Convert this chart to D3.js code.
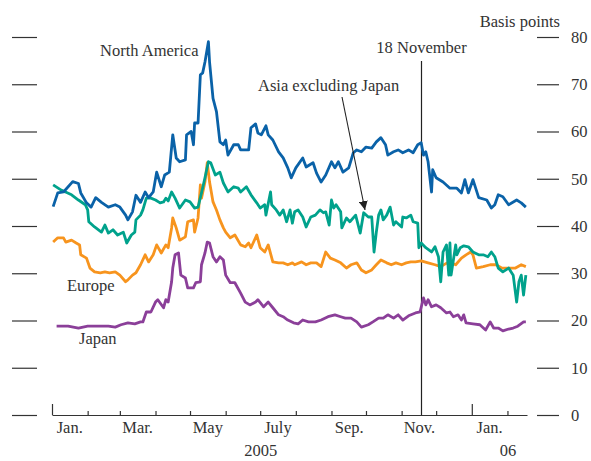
<!doctype html>
<html>
<head>
    <title>Spreads 2005-06</title>
    <script src='https://d3js.org/d3.v7.min.js'></script>
    <style>
        body { margin: 0; background: #fff; }
        svg text { font-family: "Liberation Serif", serif; fill: #333; }
    </style>
</head>
<body>
<svg></svg>
</body>
<script>

    // values, basis points
    var northAmerica = [
        ["2005-01-02",44.1],["2005-01-06",47],["2005-01-11",47.2],["2005-01-19",49.4],["2005-01-24",49],
        ["2005-01-26",47],["2005-01-31",44.9],["2005-02-04",44],["2005-02-08",46],["2005-02-13",45],
        ["2005-02-19",44],["2005-02-25",44.5],["2005-03-01",44],["2005-03-06",42.3],["2005-03-08",41.3],
        ["2005-03-12",43],["2005-03-15",46.5],["2005-03-19",45],["2005-03-23",47.2],["2005-03-26",46],
        ["2005-03-30",47.2],["2005-04-02",51.4],["2005-04-06",48.3],["2005-04-09",50.8],["2005-04-13",51.4],
        ["2005-04-16",59.3],["2005-04-19",54.4],["2005-04-22",53.6],["2005-04-27",54],["2005-04-28",59.3],
        ["2005-05-02",60],["2005-05-04",57.2],["2005-05-05",61.8],["2005-05-08",61.8],["2005-05-10",72],
        ["2005-05-12",72.4],["2005-05-14",74.7],["2005-05-17",79],["2005-05-18",74.7],["2005-05-21",67],
        ["2005-05-24",64.2],["2005-05-27",57.8],["2005-05-30",57.2],["2005-06-01",58.2],["2005-06-03",55],
        ["2005-06-08",57.2],["2005-06-12",57.2],["2005-06-14",56.1],["2005-06-21",56.1],["2005-06-23",60.8],
        ["2005-06-27",61.6],["2005-06-29",59.7],["2005-07-02",59.3],["2005-07-06",61.2],["2005-07-08",59.3],
        ["2005-07-12",58.2],["2005-07-17",55.7],["2005-07-21",54.4],["2005-07-25",52.3],["2005-07-28",50.2],
        ["2005-08-01",52.3],["2005-08-07",54.4],["2005-08-10",52.5],["2005-08-16",53.4],["2005-08-19",51.2],
        ["2005-08-23",49.3],["2005-08-27",50.8],["2005-09-01",53.6],["2005-09-04",52.3],["2005-09-07",53.6],
        ["2005-09-11",51.4],["2005-09-16",52.3],["2005-09-20",55.5],["2005-09-23",56.1],["2005-09-27",55.7],
        ["2005-10-01",56.7],["2005-10-06",56.5],["2005-10-10",57.8],["2005-10-14",58.7],["2005-10-18",57.2],
        ["2005-10-20",55],["2005-10-25",55.7],["2005-10-29",56.1],["2005-11-02",55.5],["2005-11-07",56.1],
        ["2005-11-11",55.5],["2005-11-15",57.2],["2005-11-18",57.6],["2005-11-20",55],["2005-11-22",55.7],
        ["2005-11-24",53.6],["2005-11-27",47.2],["2005-11-28",51.9],["2005-12-01",50.2],["2005-12-07",49.3],
        ["2005-12-13",48],["2005-12-19",48],["2005-12-23",47],["2005-12-26",49.8],["2005-12-29",47],
        ["2006-01-02",49.8],["2006-01-07",46],["2006-01-14",45.5],["2006-01-18",43.8],["2006-01-21",44.5],
        ["2006-01-24",46.6],["2006-01-28",46.2],["2006-02-02",44.5],["2006-02-09",45.5],["2006-02-13",44.9],
        ["2006-02-17",44]
    ];

    var asiaExJapan = [
        ["2005-01-02",48.7],["2005-01-09",47.6],["2005-01-18",46.6],["2005-01-24",45.5],["2005-01-30",44.5],
        ["2005-02-01",43.4],["2005-02-02",40.9],["2005-02-07",39.8],["2005-02-13",38.7],["2005-02-16",40.2],
        ["2005-02-19",38.5],["2005-02-23",39.2],["2005-02-27",38.1],["2005-03-04",38.7],["2005-03-07",36.4],
        ["2005-03-11",38.1],["2005-03-14",38.7],["2005-03-15",41.3],["2005-03-19",42.3],["2005-03-21",43.4],
        ["2005-03-24",45.9],["2005-03-28",45.9],["2005-04-01",45.5],["2005-04-05",44.9],["2005-04-08",45.1],
        ["2005-04-10",45.9],["2005-04-12",45.3],["2005-04-15",47.2],["2005-04-18",45.9],["2005-04-22",43.8],
        ["2005-04-27",45.5],["2005-05-01",45.1],["2005-05-05",43.8],["2005-05-08",44],["2005-05-11",47],
        ["2005-05-14",50.2],["2005-05-17",53.6],["2005-05-19",53.4],["2005-05-23",50.8],["2005-05-27",51.4],
        ["2005-05-30",49.1],["2005-06-03",47.2],["2005-06-08",48.3],["2005-06-12",48],["2005-06-14",47.2],
        ["2005-06-19",48.3],["2005-06-23",46.6],["2005-06-28",44.9],["2005-07-01",43.8],["2005-07-05",44.5],
        ["2005-07-06",42.3],["2005-07-10",47.2],["2005-07-11",44.5],["2005-07-15",43.4],["2005-07-18",42.3],
        ["2005-07-21",43.4],["2005-07-24",40.9],["2005-07-27",43.4],["2005-07-29",40.6],["2005-07-31",43],
        ["2005-08-03",43.4],["2005-08-07",41.9],["2005-08-10",39.8],["2005-08-14",41.9],["2005-08-18",42.3],
        ["2005-08-22",43.4],["2005-08-25",42.8],["2005-08-27",43],["2005-08-30",40.2],["2005-09-01",45.5],
        ["2005-09-03",43.8],["2005-09-05",44.5],["2005-09-09",43],["2005-09-10",39.6],["2005-09-14",41.7],
        ["2005-09-17",40.9],["2005-09-22",42.3],["2005-09-26",38.5],["2005-09-29",42.8],["2005-10-03",41.9],
        ["2005-10-06",41.9],["2005-10-08",34.5],["2005-10-10",38.7],["2005-10-12",42.3],["2005-10-14",43.4],
        ["2005-10-16",41.3],["2005-10-19",42.3],["2005-10-22",44],["2005-10-25",40.2],["2005-10-27",40.9],
        ["2005-11-01",39.8],["2005-11-02",41.9],["2005-11-05",41.7],["2005-11-09",42.3],["2005-11-11",40.9],
        ["2005-11-15",40.6],["2005-11-16",35.4],["2005-11-18",36.4],["2005-11-22",35.4],["2005-11-27",34.5],
        ["2005-11-30",35.6],["2005-12-03",33.5],["2005-12-05",28.2],["2005-12-07",34.5],["2005-12-10",36],
        ["2005-12-12",29.6],["2005-12-13",36.4],["2005-12-14",29.6],["2005-12-18",36],["2005-12-19",33.9],
        ["2005-12-22",35.4],["2005-12-25",35.8],["2005-12-29",35.6],["2006-01-02",34.5],["2006-01-07",33.9],
        ["2006-01-11",33.9],["2006-01-15",33.5],["2006-01-18",34.5],["2006-01-21",33.5],["2006-01-24",31.1],
        ["2006-01-28",30.3],["2006-02-02",31.1],["2006-02-06",29.6],["2006-02-09",23.9],["2006-02-11",28.2],
        ["2006-02-13",29.6],["2006-02-15",25.4],["2006-02-17",29.6]
    ];

    var europe = [
        ["2005-01-02",36.6],["2005-01-06",37.5],["2005-01-11",37.5],["2005-01-13",36.6],["2005-01-18",37],
        ["2005-01-22",36.4],["2005-01-25",36],["2005-01-26",33.9],["2005-01-31",33.2],["2005-02-03",31.1],
        ["2005-02-07",30.3],["2005-02-12",30.1],["2005-02-16",30.3],["2005-02-20",30.1],["2005-02-25",30.3],
        ["2005-03-01",29.6],["2005-03-06",28.2],["2005-03-08",28.6],["2005-03-12",29.6],["2005-03-15",30.1],
        ["2005-03-19",31.8],["2005-03-23",33.9],["2005-03-26",32.4],["2005-03-30",33.9],["2005-04-02",36],
        ["2005-04-06",34.3],["2005-04-10",36],["2005-04-12",35.4],["2005-04-15",39.6],["2005-04-16",41.7],
        ["2005-04-19",39.6],["2005-04-22",37],["2005-04-27",37.7],["2005-04-29",40.9],["2005-05-04",41.3],
        ["2005-05-05",38.7],["2005-05-08",41.7],["2005-05-10",48.7],["2005-05-11",45.9],["2005-05-14",49.3],
        ["2005-05-16",53.4],["2005-05-18",49.3],["2005-05-21",45.1],["2005-05-24",43.4],["2005-05-27",41.3],
        ["2005-05-30",39.6],["2005-06-01",38.7],["2005-06-05",37.5],["2005-06-09",38.1],["2005-06-14",36],
        ["2005-06-18",35.6],["2005-06-21",36.4],["2005-06-23",35.4],["2005-06-28",38.1],["2005-07-01",35.4],
        ["2005-07-05",34.5],["2005-07-08",36],["2005-07-12",32.4],["2005-07-17",32.2],["2005-07-21",32.2],
        ["2005-07-25",31.8],["2005-07-29",32.2],["2005-07-31",31.8],["2005-08-06",32.4],["2005-08-10",31.8],
        ["2005-08-14",32.2],["2005-08-19",32.2],["2005-08-23",31.4],["2005-08-27",34.5],["2005-08-31",33.2],
        ["2005-09-04",32.8],["2005-09-09",32.2],["2005-09-14",31.1],["2005-09-18",31.8],["2005-09-23",32.2],
        ["2005-09-27",30.7],["2005-10-01",30.1],["2005-10-06",30.7],["2005-10-10",31.8],["2005-10-14",32.8],
        ["2005-10-19",32.2],["2005-10-23",31.8],["2005-10-27",32.2],["2005-11-01",31.8],["2005-11-05",32.2],
        ["2005-11-09",32.4],["2005-11-13",32.4],["2005-11-18",32.6],["2005-11-24",32.2],["2005-11-30",31.8],
        ["2005-12-05",31.4],["2005-12-12",32.4],["2005-12-18",31.8],["2005-12-23",33.2],["2005-12-27",33.9],
        ["2005-12-31",34.5],["2006-01-02",33.9],["2006-01-05",31.1],["2006-01-11",31.4],["2006-01-17",31.8],
        ["2006-01-22",31.8],["2006-01-27",31.1],["2006-02-02",31.1],["2006-02-08",31.1],["2006-02-13",31.8],
        ["2006-02-17",31.4]
    ];

    var japan = [
        ["2005-01-05",18.8],["2005-01-15",18.8],["2005-01-24",18.4],["2005-02-01",18.8],["2005-02-10",18.8],
        ["2005-02-19",18.8],["2005-02-25",18.6],["2005-03-02",19.1],["2005-03-08",19.5],["2005-03-14",19.3],
        ["2005-03-19",19.7],["2005-03-21",19.7],["2005-03-24",21.8],["2005-03-28",21.8],["2005-04-01",23.9],
        ["2005-04-03",24.4],["2005-04-08",22.7],["2005-04-10",24.4],["2005-04-12",23.9],["2005-04-15",28.2],
        ["2005-04-16",31.1],["2005-04-18",33.9],["2005-04-21",34.3],["2005-04-23",29.6],["2005-04-27",29],
        ["2005-04-29",26.9],["2005-05-04",26.9],["2005-05-06",28],["2005-05-10",28.2],["2005-05-11",31.8],
        ["2005-05-14",34.3],["2005-05-16",36.6],["2005-05-18",36.4],["2005-05-21",33.5],["2005-05-24",32.4],
        ["2005-05-27",33.5],["2005-05-30",32.8],["2005-06-01",29.6],["2005-06-05",28],["2005-06-09",28],
        ["2005-06-14",25.8],["2005-06-18",23.9],["2005-06-22",23.3],["2005-06-27",23.9],["2005-06-29",24.4],
        ["2005-07-04",22.9],["2005-07-08",23.9],["2005-07-12",22.7],["2005-07-17",21.2],["2005-07-21",20.8],
        ["2005-07-25",20.1],["2005-07-30",19.5],["2005-08-03",19.3],["2005-08-07",20.1],["2005-08-12",19.7],
        ["2005-08-18",19.7],["2005-08-23",20.1],["2005-08-29",20.8],["2005-09-04",21.2],["2005-09-09",20.8],
        ["2005-09-13",20.5],["2005-09-18",20.5],["2005-09-23",19.7],["2005-09-27",18.6],["2005-10-03",19.1],
        ["2005-10-07",19.7],["2005-10-12",20.5],["2005-10-16",20.5],["2005-10-20",21.2],["2005-10-25",20.5],
        ["2005-10-29",21.2],["2005-11-02",20.1],["2005-11-07",21],["2005-11-13",21.6],["2005-11-17",21.8],
        ["2005-11-20",24.8],["2005-11-22",23.3],["2005-11-24",24.4],["2005-11-27",22.9],["2005-12-01",23.3],
        ["2005-12-05",22.7],["2005-12-10",21.6],["2005-12-13",21.8],["2005-12-16",20.8],["2005-12-20",21.2],
        ["2005-12-23",20.1],["2005-12-25",21.2],["2005-12-27",19.5],["2006-01-02",19.3],["2006-01-08",19.1],
        ["2006-01-13",18],["2006-01-17",19.7],["2006-01-20",18.4],["2006-01-24",18.4],["2006-01-28",17.8],
        ["2006-02-02",18.2],["2006-02-06",18.4],["2006-02-10",18.8],["2006-02-15",19.7],["2006-02-17",19.7]
    ];

    var yTicks = [0, 10, 20, 30, 40, 50, 60, 70, 80];
    var monthLabelDates = ["2005-01-16","2005-03-16","2005-05-16","2005-07-16","2005-09-16","2005-11-16","2006-01-16"];
    var monthLabels = ["Jan.", "Mar.", "May", "July", "Sep.", "Nov.", "Jan."];
    var yearLabelDates = ["2005-07-01", "2006-02-01"];
    var yearLabels = ["2005", "06"];
    var eventDate = "2005-11-18";

    var colors = {na: '#0a62a8', asia: '#00a28c', eu: '#f7941e', jp: '#8b3f99'};

    var svgWidth = 591, svgHeight = 461;
    var fontSize = 16.5;
    var parse = d3.timeParse("%Y-%m-%d");

    var svg = d3.select('svg')
        .attr("width", svgWidth)
        .attr("height", svgHeight)
        .style("font-size", fontSize + "px");

    var xScale = d3.scaleTime()
        .domain([new Date(2005, 0, 1), new Date(2006, 1, 18)])
        .range([52, 527]);

    var yScale = d3.scaleLinear()
        .domain([0, 80])
        .range([415, 37]);

    // axis groups carry d3's default font attrs; drop them so the css font wins
    function plain(g) {
        g.attr("font-family", null).attr("font-size", null);
        g.select(".domain").remove();
        return g;
    }

    // left ticks, no labels
    svg.append('g')
        .attr("transform", "translate(37,0)")
        .call(d3.axisLeft(yScale).tickValues(yTicks).tickSize(25).tickFormat(""))
        .call(plain);

    // right ticks with labels
    svg.append('g')
        .attr("transform", "translate(537,0)")
        .call(d3.axisRight(yScale).tickValues(yTicks).tickSize(22).tickPadding(12))
        .call(plain);

    svg.selectAll(".tick line").attr("stroke", "#333").attr("stroke-width", 1.2);

    // bottom axis: month ticks pointing up
    var xAxis = svg.append('g')
        .attr("transform", "translate(0,415)")
        .call(d3.axisBottom(xScale).ticks(d3.timeMonth.every(1)).tickSizeInner(-4).tickSizeOuter(0).tickFormat(""));
    xAxis.select(".domain").attr("stroke", "#333").attr("stroke-width", 1.2);
    xAxis.selectAll(".tick line")
        .attr("stroke", "#333")
        .attr("stroke-width", 1.2)
        .attr("y2", function (d) { return d.getMonth() === 0 ? -11 : -4; });

    svg.append('g')
        .attr("transform", "translate(0,415)")
        .call(d3.axisBottom(xScale)
            .tickValues(monthLabelDates.map(parse))
            .tickSize(0).tickPadding(6)
            .tickFormat(function (d, i) { return monthLabels[i]; }))
        .call(plain);

    svg.append('g')
        .attr("transform", "translate(0,415)")
        .call(d3.axisBottom(xScale)
            .tickValues(yearLabelDates.map(parse))
            .tickSize(0).tickPadding(29)
            .tickFormat(function (d, i) { return yearLabels[i]; }))
        .call(plain);

    svg.selectAll(".tick text").attr("fill", "#333");

    // 18 November marker
    var ex = Math.round(xScale(parse(eventDate))) + 0.5;
    svg.append('line')
        .attr('x1', ex).attr('x2', ex)
        .attr('y1', 61).attr('y2', 415)
        .attr('stroke', '#222').attr('stroke-width', 1.2);
    svg.append('text').attr('x', ex).attr('y', 53)
        .attr('text-anchor', 'middle').text('18 November');

    // lines
    var line = d3.line()
        .x(function (d) { return xScale(parse(d[0])); })
        .y(function (d) { return yScale(d[1]); });

    var series = [
        {data: japan, color: colors.jp},
        {data: europe, color: colors.eu},
        {data: asiaExJapan, color: colors.asia},
        {data: northAmerica, color: colors.na}
    ];

    svg.selectAll('path.series')
        .data(series)
        .enter()
        .append('path')
        .attr('class', 'series')
        .attr('d', function (s) { return line(s.data); })
        .attr('fill', 'none')
        .attr('stroke', function (s) { return s.color; })
        .attr('stroke-width', 2.8)
        .attr('stroke-linejoin', 'round');

    // labels
    svg.append('text').attr('x', 560).attr('y', 27).attr('text-anchor', 'end').text('Basis points');
    svg.append('text').attr('x', 100).attr('y', 56).text('North America');
    svg.append('text').attr('x', 258).attr('y', 91).text('Asia excluding Japan');
    svg.append('text').attr('x', 67).attr('y', 291).text('Europe');
    svg.append('text').attr('x', 79).attr('y', 344).text('Japan');

    // arrow
    svg.append('defs').append('marker')
        .attr('id', 'arrow')
        .attr('viewBox', '0 0 10 10')
        .attr('refX', 10).attr('refY', 5)
        .attr('markerWidth', 9).attr('markerHeight', 9)
        .attr('markerUnits', 'userSpaceOnUse')
        .attr('orient', 'auto')
        .append('path')
        .attr('d', 'M0,0 L10,5 L0,10 z')
        .attr('fill', '#222');

    svg.append('line')
        .attr('x1', 342).attr('y1', 97)
        .attr('x2', 365).attr('y2', 210)
        .attr('stroke', '#222').attr('stroke-width', 1.1)
        .attr('marker-end', 'url(#arrow)');

</script>
</html>
